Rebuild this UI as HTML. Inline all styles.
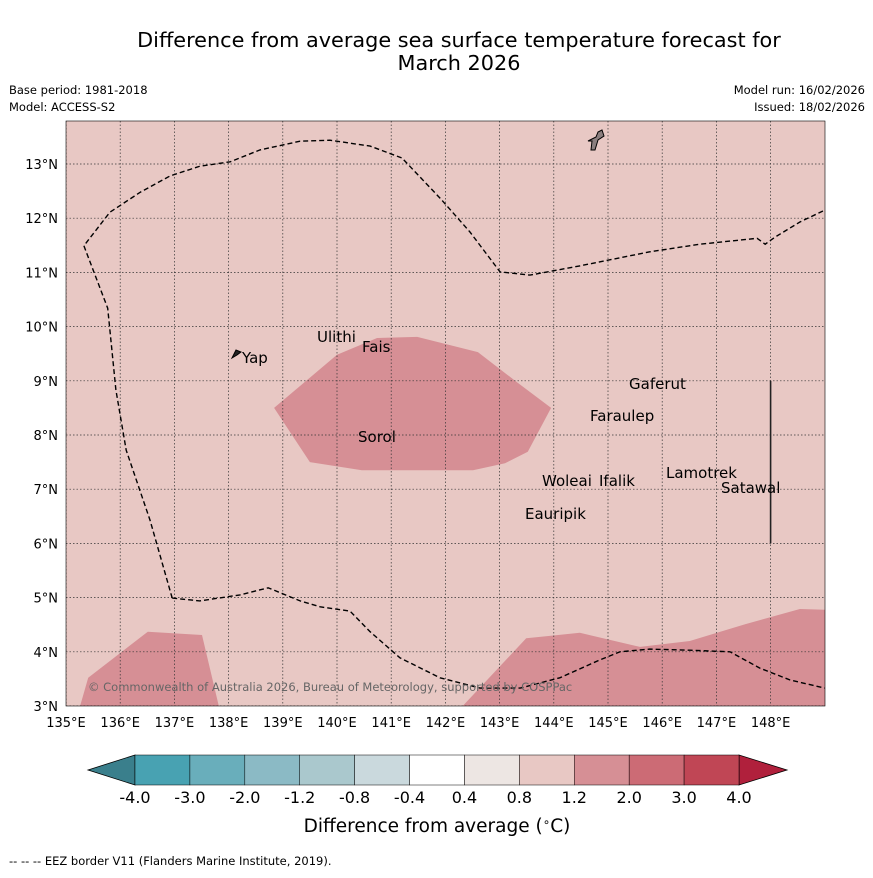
<!DOCTYPE html>
<html><head><meta charset="utf-8"><style>
body{margin:0;background:#fff;font-family:"Liberation Sans","DejaVu Sans",sans-serif}
</style></head><body>
<svg id="c" width="873" height="873" xmlns="http://www.w3.org/2000/svg" font-family="DejaVu Sans, Liberation Sans, sans-serif">
<text x="459" y="47" font-size="20.8" text-anchor="middle">Difference from average sea surface temperature forecast for</text>
<text x="459" y="70" font-size="20.8" text-anchor="middle">March 2026</text>
<text x="9" y="94" font-size="11.5">Base period: 1981-2018</text>
<text x="9" y="111" font-size="11.5">Model: ACCESS-S2</text>
<text x="865" y="94" font-size="11.5" text-anchor="end">Model run: 16/02/2026</text>
<text x="865" y="111" font-size="11.5" text-anchor="end">Issued: 18/02/2026</text>
<defs><clipPath id="mc"><rect x="66" y="121" width="759" height="585"/></clipPath></defs>
<rect x="66" y="121" width="759" height="585" fill="#e8c8c4"/>
<g id="patches" clip-path="url(#mc)"></g>
<g id="grid" clip-path="url(#mc)"></g>
<g id="eez" clip-path="url(#mc)"></g>
<path d="M232,358 L236,350 L241,352 L237,355 Z" fill="#222" stroke="#000"/>
<path d="M588,141 L592,141 L591,150 L595,150 L598,140 L604,136 L602,130 L598,132 L596,137 Z" fill="#8a7e7e" stroke="#000"/>
<g font-size="15" fill="#000">
<text x="317" y="342">Ulithi</text><text x="362" y="352">Fais</text><text x="242" y="363">Yap</text>
<text x="358" y="442">Sorol</text><text x="629" y="389">Gaferut</text><text x="590" y="421">Faraulep</text>
<text x="542" y="486">Woleai</text><text x="599" y="486">Ifalik</text><text x="666" y="478">Lamotrek</text>
<text x="721" y="493">Satawal</text><text x="525" y="519">Eauripik</text>
</g>
<text x="88" y="691" font-size="11.5" fill="#666">© Commonwealth of Australia 2026, Bureau of Meteorology, supported by COSPPac</text>
<rect x="66" y="121" width="759" height="585" fill="none" stroke="#000" stroke-width="0.6"/>
<g id="axes" font-size="13"></g>
<g id="cbar"></g>
<text x="437" y="832" font-size="18.5" text-anchor="middle">Difference from average (<tspan font-size="12" dy="-6">∘</tspan><tspan dy="6">C)</tspan></text>
<text x="9" y="865" font-size="11.5">--  --  -- EEZ border V11 (Flanders Marine Institute, 2019).</text>
</svg>
<script>
const lonTicks=[135,136,137,138,139,140,141,142,143,144,145,146,147,148];
const latTicks=[3,4,5,6,7,8,9,10,11,12,13];
const patchCenterLon=[138.84,140.0,140.74,141.48,142.6,143.34,143.95,143.52,143.1,142.51,140.46,139.5];
const patchCenterLat=[8.5,9.48,9.79,9.81,9.53,8.96,8.5,7.69,7.48,7.35,7.35,7.5];
const patchSWLon=[135.26,135.41,136.51,137.51,137.82];
const patchSWLat=[3,3.52,4.37,4.31,3];
const patchSELon=[142.32,143.49,144.48,145.59,146.51,147.53,148.54,149.2,149.2];
const patchSELat=[3,4.25,4.35,4.09,4.2,4.51,4.79,4.77,3];
const eezNorthLon=[136.96,136.55,136.11,135.92,135.77,135.33,135.81,136.37,136.92,137.47,138.03,138.58,139.32,139.87,140.61,141.2,141.9,142.45,143.01,143.56,144.48,145.77,146.7,147.75,147.9,148.08,148.54,149.0];
const eezNorthLat=[4.99,6.43,7.72,8.83,10.34,11.49,12.11,12.48,12.78,12.96,13.04,13.26,13.42,13.44,13.33,13.11,12.37,11.75,11.01,10.95,11.12,11.38,11.52,11.63,11.52,11.65,11.93,12.15];
const eezSouthLon=[136.96,137.47,138.21,138.73,139.32,139.69,140.24,140.61,141.16,141.9,142.64,143.38,144.11,144.85,145.22,145.77,146.51,147.25,147.8,148.36,149.0];
const eezSouthLat=[4.99,4.94,5.05,5.18,4.94,4.83,4.75,4.37,3.89,3.52,3.33,3.33,3.52,3.85,4.0,4.05,4.03,4.0,3.7,3.48,3.33];
const cbLabels=["-4.0","-3.0","-2.0","-1.2","-0.8","-0.4","0.4","0.8","1.2","2.0","3.0","4.0"];
const cbColors=["#48a2b2","#69aebb","#8bbac5","#aac8cd","#cad9dd","#ffffff","#ede6e3","#e8c8c4","#d68f95","#cc6b75","#c04655"];
const NS="http://www.w3.org/2000/svg";
const X=lon=>66+(lon-135)*54.2, Y=lat=>706-(lat-3)*54.2;
function mk(t,a,p){const e=document.createElementNS(NS,t);for(const k in a)e.setAttribute(k,a[k]);p.appendChild(e);return e;}
function pts(lo,la){return lo.map((v,i)=>X(v).toFixed(1)+','+Y(la[i]).toFixed(1)).join(' ');}
const P=document.getElementById('patches');
[[patchCenterLon,patchCenterLat,'anomaly-patch-center'],[patchSWLon,patchSWLat,'anomaly-patch-southwest'],[patchSELon,patchSELat,'anomaly-patch-southeast']].forEach(d=>{
 const e=mk('polygon',{points:pts(d[0],d[1]),fill:'#d68f95'},P);
 
 
});
const G=document.getElementById('grid'),A=document.getElementById('axes');
lonTicks.forEach(l=>{
 const g=mk('line',{x1:X(l),x2:X(l),y1:121,y2:706,stroke:'#333','stroke-width':0.7,'stroke-dasharray':'1.5,2'},G);
 
 
 const t=mk('text',{x:X(l),y:727,'text-anchor':'middle'},A);t.textContent=l+'°E';
 
 
});
latTicks.forEach(l=>{
 const g=mk('line',{x1:66,x2:825,y1:Y(l),y2:Y(l),stroke:'#333','stroke-width':0.7,'stroke-dasharray':'1.5,2'},G);
 
 
 const t=mk('text',{x:58,y:Y(l)+5,'text-anchor':'end'},A);t.textContent=l+'°N';
 
 
});
const E=document.getElementById('eez');
[[eezNorthLon,eezNorthLat],[eezSouthLon,eezSouthLat]].forEach(d=>{
 const e=mk('polyline',{points:pts(d[0],d[1]),fill:'none',stroke:'#000','stroke-width':1.4,'stroke-dasharray':'5,3'},E);
 
 
});
const v=mk('line',{x1:X(148),x2:X(148),y1:Y(9),y2:Y(6),stroke:'#222','stroke-width':1.6},E);


const C=document.getElementById('cbar');
const x0=135,x1=739,w=(x1-x0)/cbColors.length,yt=755,yb=785;
const lt=mk('polygon',{points:`88,770 ${x0},${yt} ${x0},${yb}`,fill:'#3a7f8c',stroke:'#000','stroke-width':0.8},C);


const rt=mk('polygon',{points:`787,770 ${x1},${yt} ${x1},${yb}`,fill:'#b0203c',stroke:'#000','stroke-width':0.8},C);


cbColors.forEach((c,i)=>{
 const r=mk('rect',{x:x0+i*w,y:yt,width:w,height:yb-yt,fill:c,stroke:'#000','stroke-width':0.5},C);
 
 
});
cbLabels.forEach((s,i)=>{
 const t=mk('text',{x:x0+i*w,y:803,'font-size':16,'text-anchor':'middle'},C);t.textContent=s;
 
 
});
</script>
</body></html>
